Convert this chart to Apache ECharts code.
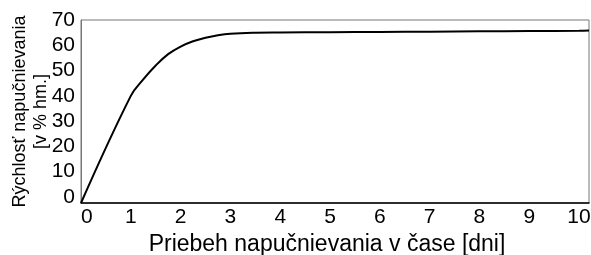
<!DOCTYPE html>
<html>
<head>
<meta charset="utf-8">
<script src="https://cdn.jsdelivr.net/npm/echarts@6/dist/echarts.min.js"></script>
<style>
  html, body { margin: 0; padding: 0; background: #fff; }
  #chart { width: 591px; height: 255px; }
</style>
</head>
<body>
<div id="chart"></div>
<script>
// dni
var days = [0, 1, 1.25, 1.5, 1.75, 2, 2.25, 2.5, 2.75, 3, 3.5, 4, 5, 6, 7, 8, 9, 10, 10.2];
// rýchlosť napučnievania [v % hm.]
var swelling = [-2.4, 40, 46.5, 52, 56.5, 59.5, 61.6, 63, 64, 64.6, 65, 65.1, 65.2, 65.3, 65.4, 65.5, 65.6, 65.7, 65.8];

var chart = echarts.init(document.getElementById('chart'));

var font = 'Liberation Sans, Arial, sans-serif';

var option = {
  animation: false,
  grid: {
    left: 81,
    top: 20,
    right: 2,
    bottom: 52,
    containLabel: false,
    outerBoundsMode: 'none',
    show: true,
    borderColor: '#777',
    borderWidth: 1
  },
  xAxis: {
    type: 'value',
    min: 0,
    max: 10.2,
    interval: 1,
    name: 'Priebeh napučnievania v čase [dni]',
    nameLocation: 'middle',
    nameGap: 30,
    nameMoveOverlap: false,
    nameTextStyle: { fontFamily: font, fontSize: 23, color: '#000', padding: [0, 16, 0, 0] },
    axisLine: { onZero: false, lineStyle: { color: '#000', width: 1.5 } },
    axisTick: { show: false },
    splitLine: { show: false },
    axisLabel: {
      fontFamily: font, fontSize: 21, color: '#000', margin: 4,
      showMaxLabel: false,
      alignMinLabel: 'left'
    }
  },
  yAxis: {
    type: 'value',
    min: -2.4,
    max: 70,
    splitNumber: 7,
    name: 'Rýchlosť napučnievania\n[v % hm.]',
    nameLocation: 'middle',
    nameGap: 29,
    nameMoveOverlap: false,
    nameTextStyle: { fontFamily: font, fontSize: 18, color: '#000', lineHeight: 21 },
    axisLine: { lineStyle: { color: '#777', width: 1 } },
    axisTick: { show: false },
    splitLine: { show: false },
    axisLabel: {
      fontFamily: font, fontSize: 21, color: '#000', margin: 6,
      showMinLabel: false
    }
  },
  series: [{
    type: 'line',
    data: days.map(function (d, i) { return [d, swelling[i]]; }),
    smooth: 0.4,
    showSymbol: false,
    lineStyle: { color: '#000', width: 2 }
  }]
};

chart.setOption(option);
</script>
</body>
</html>
